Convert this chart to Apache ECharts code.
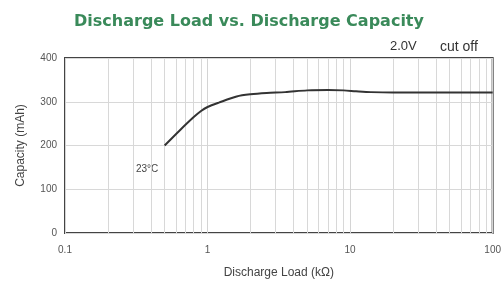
<!DOCTYPE html>
<html style="height: 100%">
    <head>
        <meta charset="utf-8">
        <title>Discharge Load vs. Discharge Capacity</title>
    </head>
    <body style="height: 100%; margin: 0; background: #fff">
        <div id="container" style="width:504px;height:284px"></div>

        <script type="text/javascript" src="https://cdn.jsdelivr.net/npm/echarts@6/dist/echarts.min.js"></script>
        <script type="text/javascript">
// load in kOhm, capacity in mAh (2.0V cut off, 23 C)
var load = [0.5, 0.64, 0.8, 0.9, 1.0, 1.2, 1.6, 2.0, 2.6, 3.5, 5.0, 7.0, 9.0, 11, 14, 20, 50, 100];
var capacity = [200, 235, 265, 279, 288, 298, 312, 317, 320, 322, 326, 327, 326, 324, 322, 321, 321, 321];
var yTicks = [0, 100, 200, 300, 400];
var minorGrid = [0.2, 0.3, 0.4, 0.5, 0.6, 0.7, 0.8, 0.9,
                 2, 3, 4, 5, 6, 7, 8, 9,
                 20, 30, 40, 50, 60, 70, 80, 90];

var dom = document.getElementById("container");
var myChart = echarts.init(dom);

var pts = [];
for (var i = 0; i < load.length; i++) {
    pts.push([load[i], capacity[i]]);
}
var gridLines = [];
for (var j = 0; j < minorGrid.length; j++) {
    gridLines.push({xAxis: minorGrid[j]});
}

var option = {
    animation: false,
    title: {
        text: 'Discharge Load vs. Discharge Capacity',
        left: 244,
        textAlign: 'center',
        top: 9,
        textStyle: {
            color: '#3a8a5a',
            fontSize: 16,
            fontWeight: 'bold',
            fontFamily: 'DejaVu Sans'
        }
    },
    grid: {
        left: 65,
        right: 11,
        top: 58,
        bottom: 51,
        show: true,
        borderColor: '#444',
        borderWidth: 2,
        backgroundColor: '#fff'
    },
    xAxis: {
        type: 'log',
        logBase: 10,
        min: 0.1,
        max: 100,
        name: 'Discharge Load (kΩ)',
        nameLocation: 'middle',
        nameGap: 34,
        nameTextStyle: {color: '#444', fontSize: 12, fontFamily: 'Liberation Sans'},
        axisLine: {show: false},
        axisTick: {show: false},
        axisLabel: {
            color: '#555', fontSize: 10, fontFamily: 'Liberation Sans', margin: 12,
            formatter: function (v) { return String(+v.toPrecision(3)); }
        },
        splitLine: {show: true, lineStyle: {color: '#d4d4d4', width: 1}}
    },
    yAxis: {
        type: 'value',
        min: yTicks[0],
        max: yTicks[yTicks.length - 1],
        interval: 100,
        name: 'Capacity (mAh)',
        nameLocation: 'middle',
        nameGap: 38,
        nameTextStyle: {color: '#444', fontSize: 12, fontFamily: 'Liberation Sans'},
        axisLine: {show: false},
        axisTick: {show: false},
        axisLabel: {color: '#555', fontSize: 10, fontFamily: 'Liberation Sans', margin: 8},
        splitLine: {show: true, lineStyle: {color: '#d8d8d8', width: 1}}
    },
    series: [{
        type: 'line',
        data: pts,
        smooth: 0.3,
        showSymbol: false,
        lineStyle: {color: '#333', width: 2},
        markLine: {
            silent: true,
            symbol: 'none',
            label: {show: false},
            lineStyle: {color: '#d8d8d8', width: 1, type: 'solid'},
            data: gridLines,
            z: 1
        }
    }],
    graphic: [
        {
            type: 'text', left: 390, top: 40,
            style: {text: '2.0V', fill: '#333', font: '13px "Liberation Sans"'}
        },
        {
            type: 'text', left: 440, top: 40,
            style: {text: 'cut off', fill: '#333', font: '14px "Liberation Sans"'}
        },
        {
            type: 'text', left: 136, top: 164,
            style: {text: '23°C', fill: '#444', font: '10px "Liberation Sans"'}
        }
    ]
};

myChart.setOption(option);
        </script>
    </body>
</html>
